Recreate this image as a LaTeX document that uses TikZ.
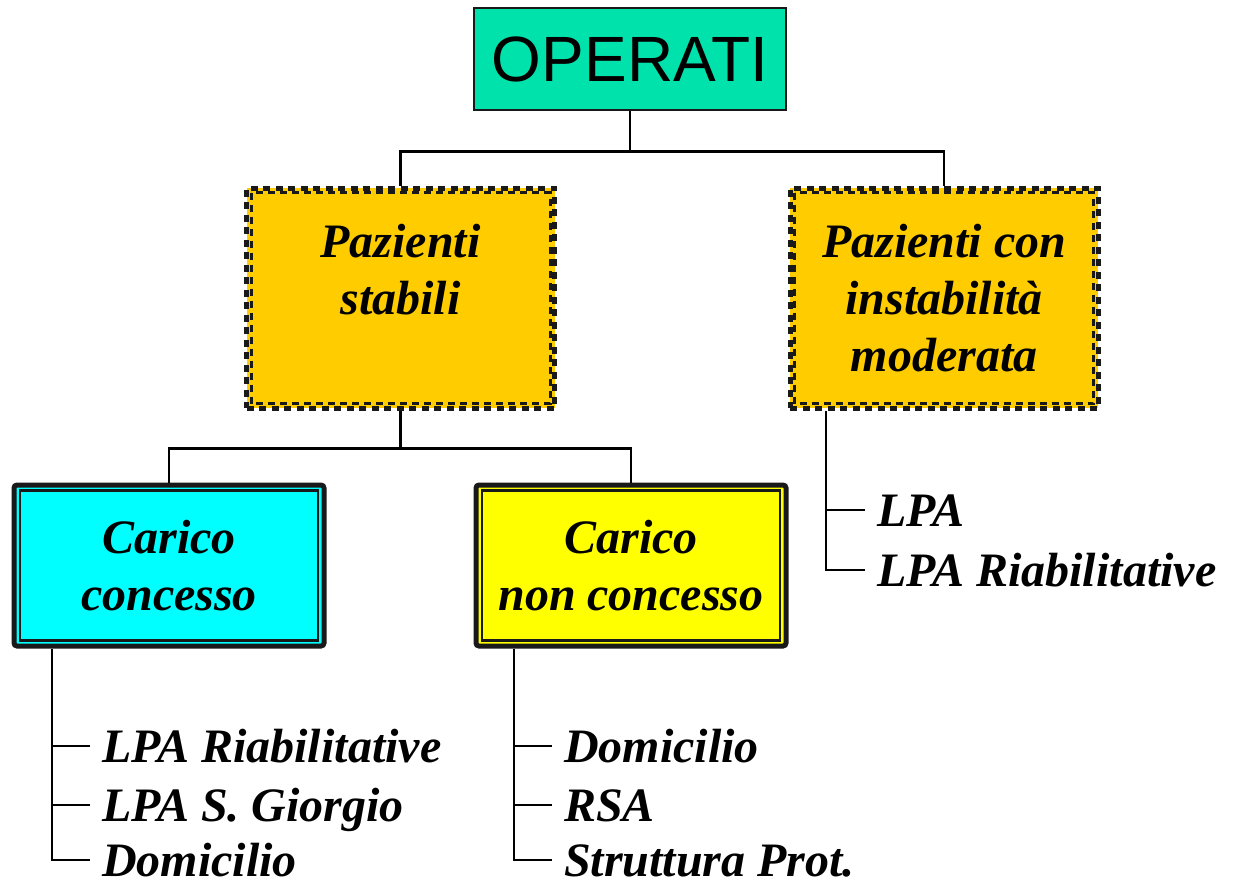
\documentclass[tikz,border=0pt]{standalone}
\usepackage{fontspec}
\setmainfont{Liberation Serif}
\newfontfamily\headfont{Liberation Sans}
\definecolor{opgreen}{RGB}{0,226,172}
\definecolor{boxorange}{RGB}{255,204,0}
\definecolor{boxcyan}{RGB}{0,255,255}
\definecolor{boxyellow}{RGB}{255,255,0}
\newcommand{\bigbi}{\fontsize{48}{57}\selectfont\bfseries\itshape}

\begin{document}
\begin{tikzpicture}[x=1pt,y=-1pt,
          rootbox/.style={rectangle, draw=black!90, fill=opgreen, line width=2.5pt,
            minimum width=312pt, minimum height=102pt, font=\headfont\fontsize{64}{70}\selectfont},
          groupbox/.style={rectangle, draw=black!90, fill=boxorange, line width=5pt,
            dash pattern=on 7pt off 5.5pt, minimum width=308pt, minimum height=220pt,
            align=center, font=\bigbi},
          innerdash/.style={draw=black!90, line width=3pt, dash pattern=on 7pt off 5pt},
          loadbox/.style={rectangle, draw=black!90, line width=5pt, rounded corners=3pt,
            minimum width=310pt, minimum height=161pt, align=center, font=\bigbi},
          innerline/.style={draw=black!90, line width=2.5pt},
          link/.style={draw=black, line width=2.5pt},
          listitem/.style={anchor=west, inner xsep=12pt, inner ysep=0pt,
            text height=32pt, text depth=0pt, font=\bigbi}]

        \useasboundingbox (0,0) rectangle (1244,879);

        \node[rootbox] (op) at (630,59) {OPERATI};

        \node[groupbox] (ps) at (400.5,298) {Pazienti\\stabili\\\mbox{}};
        \node[groupbox] (pi) at (944,298)   {Pazienti con\\instabilità\\moderata};
        \draw[innerdash] ([shift={(7,7)}]ps.north west) rectangle ([shift={(-7,-7)}]ps.south east);
        \draw[innerdash] ([shift={(7,7)}]pi.north west) rectangle ([shift={(-7,-7)}]pi.south east);

        \draw[link] (op.south) -- ++(0,40) -| (ps.north);
        \draw[link] (op.south) -- ++(0,40) -| (pi.north);

        \node[loadbox, fill=boxcyan]   (cc) at (169,565.5) {Carico\\concesso};
        \node[loadbox, fill=boxyellow] (nc) at (631,565.5) {Carico\\non concesso};
        \draw[innerline] ([shift={(8.5,8)}]cc.north west) rectangle ([shift={(-8.5,-8)}]cc.south east);
        \draw[innerline] ([shift={(8.5,8)}]nc.north west) rectangle ([shift={(-8.5,-8)}]nc.south east);

        \draw[link] (ps.south) -- ++(0,38) -| (cc.north);
        \draw[link] (ps.south) -- ++(0,38) -| (nc.north);

        \node[listitem] (cc1) at (90,746) {LPA Riabilitative};
        \node[listitem] (cc2) at (90,805) {LPA S. Giorgio};
        \node[listitem] (cc3) at (90,860) {Domicilio};

        \node[listitem] (nc1) at (552,746) {Domicilio};
        \node[listitem] (nc2) at (552,805) {RSA};
        \node[listitem] (nc3) at (552,860) {Struttura Prot.};

        \node[listitem] (pi1) at (865,510) {LPA};
        \node[listitem] (pi2) at (865,570) {LPA Riabilitative};

        \coordinate (cctrunk) at ([xshift=40.5]cc.south west);
        \coordinate (nctrunk) at ([xshift=40.5]nc.south west);
        \coordinate (pitrunk) at ([xshift=38.5]pi.south west);

        \draw[link] (cctrunk) |- (cc3.west);
        \draw[link] (cctrunk |- cc1.west) -- (cc1.west);
        \draw[link] (cctrunk |- cc2.west) -- (cc2.west);

        \draw[link] (nctrunk) |- (nc3.west);
        \draw[link] (nctrunk |- nc1.west) -- (nc1.west);
        \draw[link] (nctrunk |- nc2.west) -- (nc2.west);

        \draw[link] (pitrunk) |- (pi2.west);
        \draw[link] (pitrunk |- pi1.west) -- (pi1.west);

      \end{tikzpicture}
\end{document}
